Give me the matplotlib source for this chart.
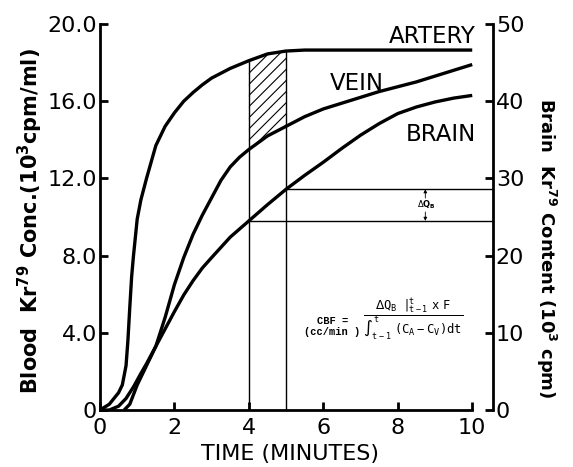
import numpy as np
import matplotlib
matplotlib.use("Agg")
import matplotlib.pyplot as plt

# time (minutes) shared by the arterial and venous blood curves
t_blood = [0, 0.25, 0.5, 0.6, 0.7, 0.75, 0.8, 0.85, 0.9, 1.0,
           1.1, 1.25, 1.5, 1.75, 2.0, 2.25, 2.5, 2.75, 3.0, 3.25,
           3.5, 3.75, 4.0, 4.5, 5.0, 5.5, 6.0, 6.5, 7.0, 7.5,
           8.0, 8.5, 9.0, 9.5, 10.0]
# blood Kr79 concentration (10^3 cpm/ml)
artery = [0, 0.3, 0.9, 1.3, 2.3, 3.6, 5.3, 6.9, 8.0, 9.9,
          10.9, 12.0, 13.7, 14.7, 15.4, 16.0, 16.45, 16.85, 17.2, 17.45,
          17.7, 17.9, 18.1, 18.45, 18.6, 18.65, 18.65, 18.65, 18.65, 18.65,
          18.65, 18.65, 18.65, 18.65, 18.65]
vein = [0, 0, 0.2, 0.4, 0.6, 0.75, 0.9, 1.05, 1.2, 1.55,
        1.9, 2.4, 3.3, 4.8, 6.5, 7.9, 9.1, 10.1, 11.0, 11.9,
        12.6, 13.1, 13.5, 14.2, 14.7, 15.2, 15.6, 15.9, 16.2, 16.5,
        16.75, 17.0, 17.3, 17.6, 17.9]

# brain Kr79 content (10^3 cpm), right-hand scale
t_brain = [0.65, 0.8, 1.0, 1.25, 1.5, 1.75, 2.0, 2.25, 2.5, 2.75,
           3.0, 3.5, 4.0, 4.5, 5.0, 5.5, 6.0, 6.5, 7.0, 7.5,
           8.0, 8.5, 9.0, 9.5, 10.0]
brain = [0, 0.75, 3.25, 5.75, 8.25, 10.5, 12.75, 14.9, 16.75, 18.4,
         19.75, 22.4, 24.5, 26.6, 28.6, 30.4, 32.1, 33.9, 35.6, 37.1,
         38.4, 39.25, 39.9, 40.4, 40.75]

t_marks = [4.0, 5.0]
left_ticks = [0, 4, 8, 12, 16, 20]
left_labels = ["0", "4.0", "8.0", "12.0", "16.0", "20.0"]
right_ticks = [0, 10, 20, 30, 40, 50]
x_ticks = [0, 2, 4, 6, 8, 10]

plt.rcParams["hatch.linewidth"] = 0.8
plt.rcParams["font.family"] = "DejaVu Sans"

fig = plt.figure(figsize=(5.73, 4.67), dpi=100)
ax = fig.add_axes([0.1745, 0.122, 0.686, 0.8266])
ax2 = ax.twinx()
x_max = 10.56

t = np.array(t_blood)
a = np.array(artery)
v = np.array(vein)

ax.plot(t, a, color="black", lw=2.4, solid_capstyle="butt", zorder=3)
ax.plot(t, v, color="black", lw=2.4, solid_capstyle="butt", zorder=3)
ax2.plot(t_brain, brain, color="black", lw=2.4, solid_capstyle="butt", zorder=3)

mask = (t >= t_marks[0]) & (t <= t_marks[1])
ax.fill_between(t, v, a, where=mask, facecolor="none", edgecolor="black",
                hatch="///", linewidth=0, zorder=2)

i_mark = [t_blood.index(m) for m in t_marks]
ax.vlines(t_marks, 0, [artery[i] for i in i_mark], color="black", lw=1.0, zorder=2)
j_mark = [t_brain.index(m) for m in t_marks]
q_marks = [brain[j] for j in j_mark]
ax2.hlines(q_marks, t_marks, x_max, color="black", lw=1.0, zorder=2)

# delta Q_B arrows
q_lo, q_hi = q_marks
q_mid = (q_lo + q_hi) / 2
arr = dict(arrowstyle="-|>", lw=0.6, color="black", mutation_scale=5, shrinkA=0, shrinkB=0)
ax2.annotate("", xy=(8.74, q_hi), xytext=(8.74, q_mid + 0.9), arrowprops=arr)
ax2.annotate("", xy=(8.74, q_lo), xytext=(8.74, q_mid - 0.9), arrowprops=arr)
ax2.text(8.76, q_mid, r"$\Delta \mathbf{Q_B}$", fontsize=6, ha="center", va="center")

# curve names
ax.text(10.08, 19.0, "ARTERY", fontsize=16.5, ha="right", va="baseline")
ax.text(6.18, 16.58, "VEIN", fontsize=16.5, ha="left", va="baseline")
ax.text(8.22, 13.95, "BRAIN", fontsize=16.5, ha="left", va="baseline")

# flow formula
ax.text(6.24, 4.62, "CBF =", fontsize=7.5, family="Liberation Mono",
        weight="bold", ha="center", va="center")
ax.text(6.24, 4.04, "(cc/min )", fontsize=7.5, family="Liberation Mono",
        weight="bold", ha="center", va="center")
ax.text(8.4, 4.66,
        r"$\dfrac{\Delta\mathtt{Q_B}\ \ |^{\mathtt{t}}_{\mathtt{t-1}}\ \mathtt{x\ F}}"
        r"{\int_{\mathtt{t-1}}^{\mathtt{t}}\ \mathtt{(C_A-C_V)dt}}$",
        fontsize=8.7, ha="center", va="center")

ax.set_xlim(0, x_max)
ax.set_ylim(0, 20)
ax2.set_ylim(0, 50)

for a_ in (ax, ax2):
    a_.spines["top"].set_visible(False)
    for s in a_.spines.values():
        s.set_linewidth(2)
ax.spines["right"].set_visible(False)
ax2.spines["left"].set_visible(False)
ax2.spines["bottom"].set_visible(False)
ax.spines["bottom"].set_bounds(0, 10)

ax.set_xticks(x_ticks)
ax.set_yticks(left_ticks)
ax.set_yticklabels(left_labels)
ax2.set_yticks(right_ticks)
ax.tick_params(axis="both", direction="in", length=6, width=2, labelsize=16, pad=2)
ax.tick_params(axis="x", pad=6)
ax2.tick_params(axis="y", direction="in", length=6, width=2, labelsize=16, pad=2)

ax.set_xlabel("TIME (MINUTES)", fontsize=16)
ax.xaxis.set_label_coords(0.483, -0.088)
ax.set_ylabel(r"Blood  Kr$^{\mathbf{79}}$ Conc.(10$^{\mathbf{3}}$cpm/ml)",
              fontsize=15, weight="bold")
ax.yaxis.set_label_coords(-0.14, 0.49)
ax2.set_ylabel(r"Brain  Kr$^{\mathbf{79}}$ Content (10$^{\mathbf{3}}$ cpm)",
               fontsize=13, weight="bold", rotation=270, va="bottom")
ax2.yaxis.set_label_coords(1.105, 0.42)

fig.savefig("out.png", dpi=100)
